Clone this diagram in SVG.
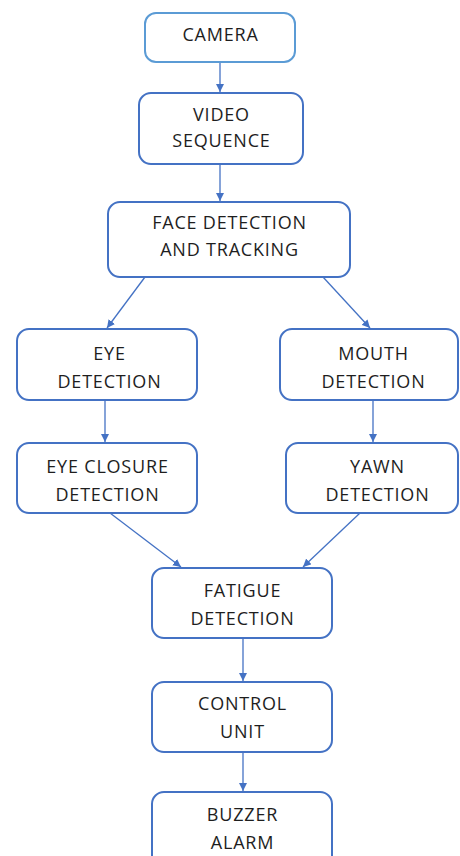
<svg xmlns="http://www.w3.org/2000/svg" width="460" height="856" viewBox="0 0 460 856">
<style>
.box{fill:#fff;stroke:#4472c4;stroke-width:2}
.cam{stroke:#5b9bd5}
.t{font-family:"Open Sans","Liberation Sans",sans-serif;font-size:18px;letter-spacing:0.8px;fill:#1e1e1e;text-anchor:middle}
.c{stroke:#4472c4;stroke-width:1.3;fill:none;marker-end:url(#ah)}
</style>
<defs>
<marker id="ah" viewBox="0 0 10 10" refX="10" refY="5" markerWidth="8" markerHeight="8" markerUnits="userSpaceOnUse" orient="auto">
<path d="M0,0 L10,5 L0,10 z" fill="#4472c4"/>
</marker>
</defs>
<rect width="460" height="856" fill="#fff"/>
<g id="connectors">
<line class="c" x1="220" y1="62" x2="220" y2="92"/>
<line class="c" x1="220" y1="164" x2="220" y2="201"/>
<line class="c" x1="145" y1="277" x2="107" y2="328"/>
<line class="c" x1="323" y1="277" x2="370" y2="328"/>
<line class="c" x1="105" y1="400" x2="105" y2="442"/>
<line class="c" x1="373" y1="400" x2="373" y2="442"/>
<line class="c" x1="110" y1="513" x2="181" y2="567"/>
<line class="c" x1="360" y1="513" x2="303" y2="567"/>
<line class="c" x1="243" y1="638" x2="243" y2="681"/>
<line class="c" x1="243" y1="752" x2="243" y2="791"/>
</g>
<g id="camera">
<rect class="box cam" x="145" y="13" width="150" height="49" rx="11"/>
<text class="t" x="220.5" y="41">CAMERA</text>
</g>
<g id="video">
<rect class="box" x="139" y="93" width="164" height="71" rx="12"/>
<text class="t" x="221.5" y="121">VIDEO</text>
<text class="t" x="221.5" y="147">SEQUENCE</text>
</g>
<g id="face">
<rect class="box" x="108" y="202" width="242" height="75" rx="12"/>
<text class="t" x="229.5" y="229">FACE DETECTION</text>
<text class="t" x="229.5" y="256">AND TRACKING</text>
</g>
<g id="eye">
<rect class="box" x="17" y="329" width="180" height="71" rx="12"/>
<text class="t" x="109.5" y="360">EYE</text>
<text class="t" x="109.5" y="388">DETECTION</text>
</g>
<g id="mouth">
<rect class="box" x="280" y="329" width="178" height="71" rx="12"/>
<text class="t" x="373.5" y="360">MOUTH</text>
<text class="t" x="373.5" y="388">DETECTION</text>
</g>
<g id="eyeclosure">
<rect class="box" x="17" y="443" width="180" height="70" rx="12"/>
<text class="t" x="107.5" y="473">EYE CLOSURE</text>
<text class="t" x="107.5" y="501">DETECTION</text>
</g>
<g id="yawn">
<rect class="box" x="286" y="443" width="172" height="70" rx="12"/>
<text class="t" x="377.5" y="473">YAWN</text>
<text class="t" x="377.5" y="501">DETECTION</text>
</g>
<g id="fatigue">
<rect class="box" x="152" y="568" width="180" height="70" rx="12"/>
<text class="t" x="242.5" y="597">FATIGUE</text>
<text class="t" x="242.5" y="625">DETECTION</text>
</g>
<g id="control">
<rect class="box" x="152" y="682" width="180" height="70" rx="12"/>
<text class="t" x="242.5" y="710">CONTROL</text>
<text class="t" x="242.5" y="738">UNIT</text>
</g>
<g id="buzzer">
<rect class="box" x="152" y="792" width="180" height="80" rx="12"/>
<text class="t" x="242.5" y="821">BUZZER</text>
<text class="t" x="242.5" y="849">ALARM</text>
</g>
</svg>
